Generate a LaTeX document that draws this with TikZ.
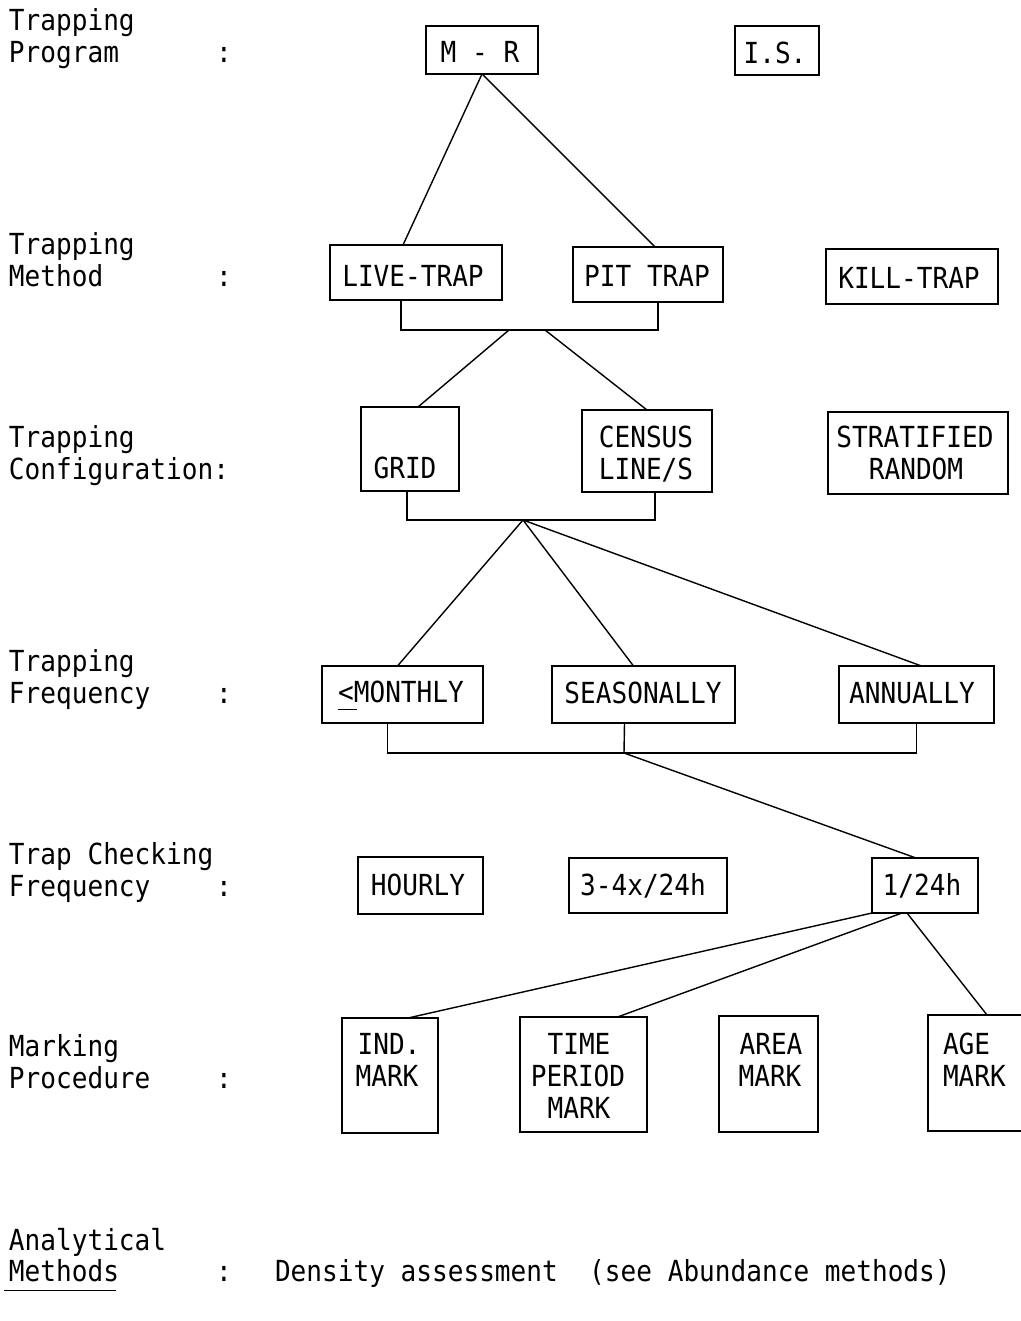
\documentclass[tikz,border=0pt]{standalone}
\usepackage{fontspec}
\newfontfamily\tw[FakeStretch=0.9]{DejaVu Sans Mono}
\usetikzlibrary{calc}
% box given by its top-left and bottom-right corners
\newcommand\mybox[5]{%
  \node[bx, minimum width={#4pt-#2pt}, minimum height={#5pt-#3pt}] (#1) at (#2,#3) {};}
\begin{document}
\begin{tikzpicture}[x=1pt,y=-1pt,
  bx/.style={draw, rectangle, line width=1.4pt, inner sep=0pt, outer sep=0pt, anchor=north west},
  tx/.style={inner sep=0pt, outer sep=0pt, font=\tw\fontsize{29}{32}\selectfont},
  lab/.style={tx, anchor=base west},
  ctr/.style={tx, anchor=base},
  ln/.style={line width=1.4pt}]
\useasboundingbox (0,0) rectangle (1020,1321);

% ---- row labels ----
\node[lab] (l1a) at (9,31) {Trapping};
\node[lab] (l1b) at (9,63) {Program};
\node[ctr] (c1) at (224,63) {:};
\node[lab] (l2a) at (9,255) {Trapping};
\node[lab] (l2b) at (9,287) {Method};
\node[ctr] (c2) at (224,287) {:};
\node[lab] (l3a) at (9,447) {Trapping};
\node[lab] (l3b) at (9,479) {Configuration:};
\node[lab] (l4a) at (9,671) {Trapping};
\node[lab] (l4b) at (9,703) {Frequency};
\node[ctr] (c4) at (224,703) {:};
\node[lab] (l5a) at (9,864) {Trap Checking};
\node[lab] (l5b) at (9,896) {Frequency};
\node[ctr] (c5) at (224,896) {:};
\node[lab] (l6a) at (9,1056) {Marking};
\node[lab] (l6b) at (9,1088) {Procedure};
\node[ctr] (c6) at (224,1088) {:};
\node[lab] (l7a) at (9,1250) {Analytical};
\node[lab] (l7b) at (9,1281) {\rlap{\hspace{-5pt}\rule[-10pt]{112pt}{1.4pt}}Methods};
\node[ctr] (c7) at (224,1281) {:};
\node[lab] (dens) at (275,1281) {Density assessment~~(see Abundance methods)};

% ---- program ----
\mybox{mr}{426}{26}{538}{74}
\node[ctr] (mrT) at (480,63) {M - R};
\mybox{is}{735}{26}{819}{75}
\node[ctr] (isT) at (775,64) {I.S.};

% ---- method ----
\mybox{live}{330}{245}{502}{300}
\node[ctr] (liveT) at (413,287) {LIVE-TRAP};
\mybox{pit}{573}{247}{723}{302}
\node[ctr] (pitT) at (647,287) {PIT TRAP};
\mybox{kill}{826}{249}{998}{304}
\node[ctr] (killT) at (909,289) {KILL-TRAP};

% ---- configuration ----
\mybox{grid}{361}{407}{459}{491}
\node[ctr] (gridT) at (405,478) {GRID};
\mybox{census}{582}{410}{712}{492}
\node[ctr] (censusT) at (646,447) {CENSUS};
\node[ctr] (censusT2) at (646,479) {LINE/S};
\mybox{strat}{828}{412}{1008}{494}
\node[ctr] (stratT) at (915,447) {STRATIFIED};
\node[ctr] (stratT2) at (916,479) {RANDOM};

% ---- frequency ----
\mybox{monthly}{322}{666}{483}{723}
\node[ctr] (monthlyT) at (401,702) {\rlap{\rule[-8pt]{19pt}{1.4pt}}<MONTHLY};
\mybox{season}{552}{666}{735}{723}
\node[ctr] (seasonT) at (643,703) {SEASONALLY};
\mybox{annual}{839}{666}{994}{723}
\node[ctr] (annualT) at (912,703) {ANNUALLY};

% ---- trap checking ----
\mybox{hourly}{358}{857}{483}{914}
\node[ctr] (hourlyT) at (418,895) {HOURLY};
\mybox{three}{569}{858}{727}{913}
\node[ctr] (threeT) at (643,895) {3-4x/24h};
\mybox{oneday}{872}{858}{978}{913}
\node[ctr] (onedayT) at (922,895) {1/24h};

% ---- marking ----
\mybox{ind}{342}{1018}{438}{1133}
\node[ctr] (indT) at (389,1054) {IND.};
\node[ctr] (indT2) at (387,1086) {MARK};
\mybox{time}{520}{1017}{647}{1132}
\node[ctr] (timeT) at (579,1054) {TIME};
\node[ctr] (timeT2) at (578,1086) {PERIOD};
\node[ctr] (timeT3) at (579,1118) {MARK};
\mybox{area}{719}{1016}{818}{1132}
\node[ctr] (areaT) at (771,1054) {AREA};
\node[ctr] (areaT2) at (770,1086) {MARK};
\mybox{age}{928}{1015}{1040}{1131}
\node[lab] (ageT) at (943,1054) {AGE};
\node[lab] (ageT2) at (943,1086) {MARK};

% ---- connectors ----
\draw[ln] (mr.south) -- ($(live.north)+(-13,0)$);
\draw[ln] (mr.south) -- ($(pit.north)+(7,0)$);

\coordinate (j1) at (527,330);
\draw[ln] ($(live.south)+(-15,0)$) |- (j1) -| ($(pit.south)+(10,0)$);
\draw[ln] ($(j1)+(-18,0)$) -- ($(grid.north)+(8,0)$);
\draw[ln] ($(j1)+(18,0)$) -- (census.north);

\coordinate (j2) at (523,520);
\draw[ln] ($(grid.south)+(-3,0)$) |- (j2) -| ($(census.south)+(8,0)$);
\draw[ln] (j2) -- ($(monthly.north)+(-5,0)$);
\draw[ln] (j2) -- ($(season.north)+(-10,0)$);
\draw[ln] (j2) -- ($(annual.north)+(5,0)$);

\coordinate (j3) at (624,753);
\draw[ln] ($(monthly.south)+(-15,0)$) |- (j3) -| ($(annual.south)+(0,0)$);
\draw[ln] ($(season.south)+(-19,0)$) -- (j3);
\draw[ln] (j3) -- ($(oneday.north)+(-9,0)$);

\draw[ln] (oneday.south west) -- ($(ind.north)+(18,0)$);
\draw[ln] ($(oneday.south)+(-23,0)$) -- ($(time.north)+(34,0)$);
\draw[ln] ($(oneday.south)+(-18,0)$) -- ($(age.north)+(3,0)$);
\end{tikzpicture}
\end{document}
